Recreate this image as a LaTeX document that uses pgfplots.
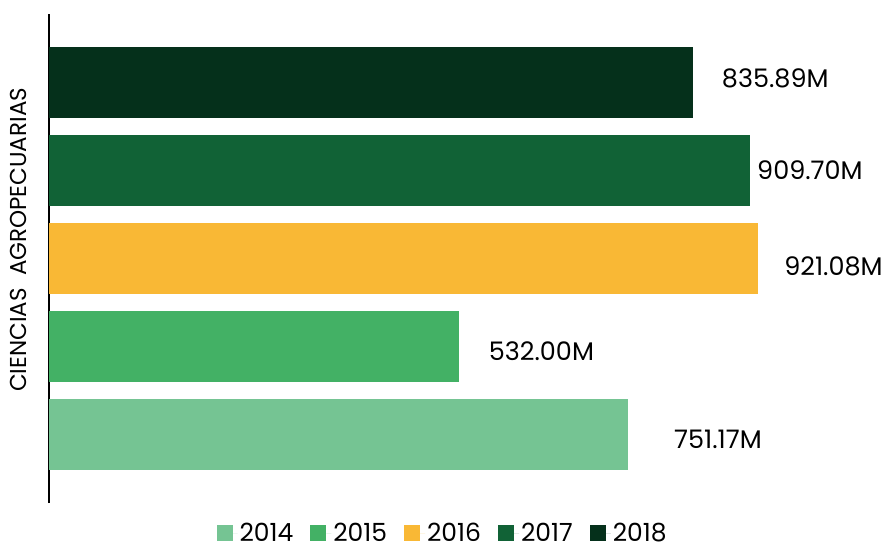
\documentclass[border=0pt]{standalone}
\usepackage{pgfplots}
\pgfplotsset{compat=1.18}
\usepackage{fontspec}
\setmainfont{Poppins}
\definecolor{c14}{RGB}{117,196,147}
\definecolor{c15}{RGB}{67,177,101}
\definecolor{c16}{RGB}{249,184,53}
\definecolor{c17}{RGB}{17,98,54}
\definecolor{c18}{RGB}{5,48,27}
\begin{document}
\begin{tikzpicture}
\begin{axis}[
 scale only axis, width=841pt, height=489pt,
 xmin=0, xmax=1092, ymin=-0.78, ymax=4.78,
 xbar, bar width=71pt, bar shift=0pt,
 axis x line=none, axis y line*=left, ytick=\empty, xtick=\empty,
 y axis line style={line width=2.5pt, black},
 clip=false,
 ylabel={CIENCIAS\ \ AGROPECUARIAS},
 ylabel style={at={(axis description cs:-0.0369,0.538)}, anchor=center, font=\fontsize{23}{26}\selectfont},
 legend style={at={(0.468,-0.062)}, anchor=center, draw=none, legend columns=5,
   font=\fontsize{25}{28}\selectfont,
   /tikz/every even column/.append style={column sep=15pt}},
 legend image code/.code={\fill[#1] (0pt,-8pt) rectangle (16pt,8pt); \path (16pt,0pt) -- (21pt,0pt);},
 nodes near coords, point meta=explicit symbolic,
 every node near coord/.append style={font=\fontsize{25.5}{28}\selectfont, anchor=west, text=black, inner sep=0pt},
]
\addplot[fill=c14, draw=none, every node near coord/.append style={xshift=46.5pt, yshift=-4.5pt}] coordinates {(751.17,0) [751.17M]};
\addlegendentry{2014}
\addplot[fill=c15, draw=none, every node near coord/.append style={xshift=30pt, yshift=-5pt}] coordinates {(532.00,1) [532.00M]};
\addlegendentry{2015}
\addplot[fill=c16, draw=none, every node near coord/.append style={xshift=25.7pt, yshift=-7.5pt}] coordinates {(921.08,2) [921.08M]};
\addlegendentry{2016}
\addplot[fill=c17, draw=none, every node near coord/.append style={xshift=7.4pt}] coordinates {(909.70,3) [909.70M]};
\addlegendentry{2017}
\addplot[fill=c18, draw=none, every node near coord/.append style={xshift=29pt, yshift=4.5pt}] coordinates {(835.89,4) [835.89M]};
\addlegendentry{2018}
\end{axis}
\path ([xshift=-49pt,yshift=-47pt]current axis.south west) rectangle ([yshift=14pt]current axis.north east);
\end{tikzpicture}
\end{document}
